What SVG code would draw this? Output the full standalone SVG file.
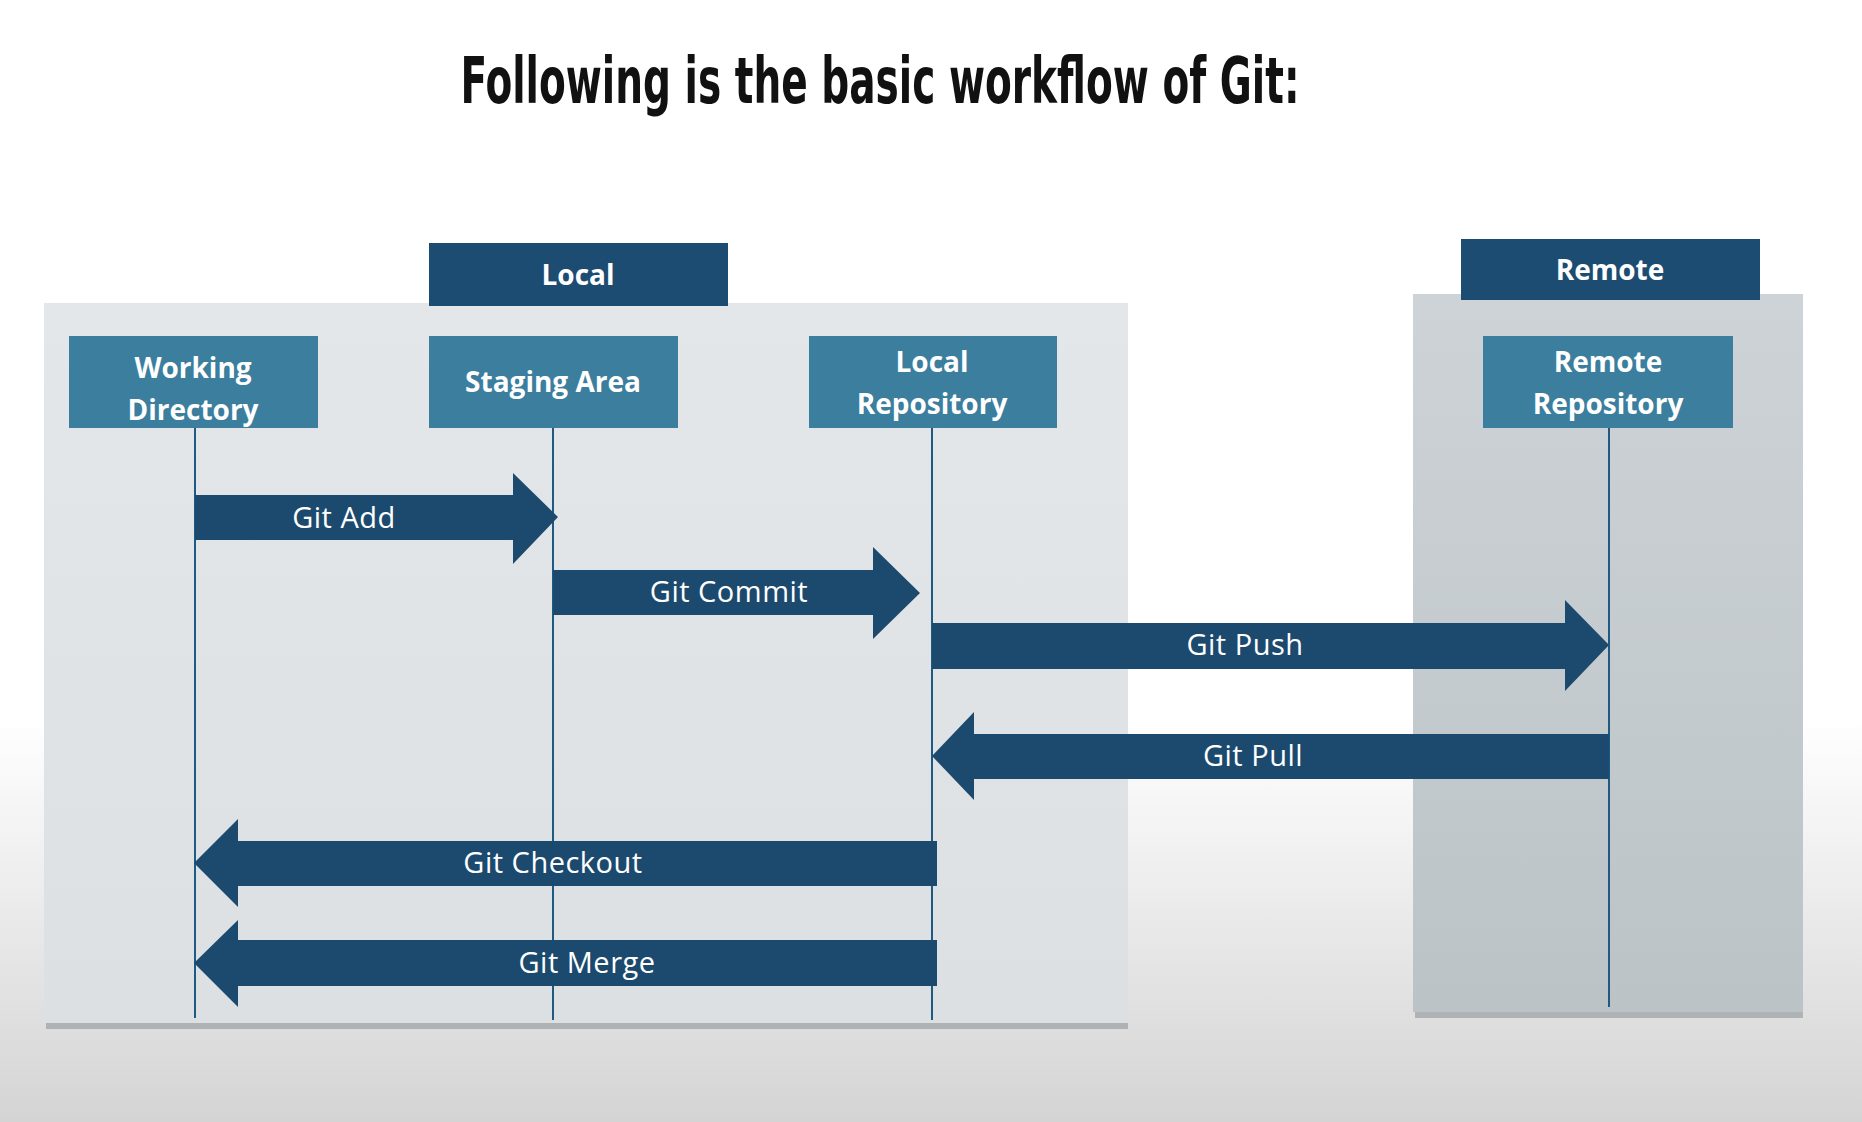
<svg xmlns="http://www.w3.org/2000/svg" width="1862" height="1122" viewBox="0 0 1862 1122">
<defs>
<linearGradient id="bg" x1="0" y1="0" x2="0" y2="1">
<stop offset="0" stop-color="#ffffff"/>
<stop offset="0.64" stop-color="#ffffff"/>
<stop offset="1" stop-color="#d4d4d4"/>
</linearGradient>
<linearGradient id="localP" x1="0" y1="0" x2="0" y2="1">
<stop offset="0" stop-color="#e4e7e9"/>
<stop offset="1" stop-color="#dde0e2"/>
</linearGradient>
<linearGradient id="remoteP" x1="0" y1="0" x2="0" y2="1">
<stop offset="0" stop-color="#cdd3d6"/>
<stop offset="1" stop-color="#bcc3c7"/>
</linearGradient>
<style>
.hdr{fill:#1d4c72}
.node{fill:#3b7e9e}
.arrow{fill:#1c4a6e}
.life{stroke:#1f5a82;stroke-width:2;fill:none}
.ntxt{font-family:"Open Sans","Noto Sans",sans-serif;font-weight:bold;font-size:28px;fill:#ffffff;text-anchor:middle}
.atxt{font-family:"Open Sans","Noto Sans",sans-serif;font-size:29px;letter-spacing:0.5px;fill:#ffffff;text-anchor:middle}
.shadow{fill:#9a9fa3}
</style>
</defs>
<rect x="0" y="0" width="1862" height="1122" fill="url(#bg)"/>
<text x="880" y="103" font-family="DejaVu Sans Condensed, DejaVu Sans, sans-serif" font-weight="bold" font-size="64" textLength="839" lengthAdjust="spacingAndGlyphs" text-anchor="middle" fill="#111111">Following is the basic workflow of Git:</text>

<g id="local-panel">
<rect x="46" y="1020" width="1082" height="9" class="shadow" opacity="0.7"/>
<rect x="44" y="303" width="1084" height="720" fill="url(#localP)"/>
</g>
<g id="remote-panel">
<rect x="1415" y="1009" width="388" height="9" class="shadow" opacity="0.7"/>
<rect x="1413" y="294" width="390" height="718" fill="url(#remoteP)"/>
</g>

<g id="local-header">
<rect x="429" y="243" width="299" height="63" class="hdr"/>
<text x="578" y="285" class="ntxt">Local</text>
</g>
<g id="remote-header">
<rect x="1461" y="239" width="299" height="61" class="hdr"/>
<text x="1610" y="280" class="ntxt">Remote</text>
</g>

<g id="connectors">
<line x1="195" y1="428" x2="195" y2="1018" class="life"/>
<line x1="553" y1="428" x2="553" y2="1020" class="life"/>
<line x1="932" y1="428" x2="932" y2="1020" class="life"/>
<line x1="1609" y1="428" x2="1609" y2="1007" class="life"/>
<g id="git-add">
<polygon class="arrow" points="195,495 513,495 513,473 558,517 513,564 513,540 195,540"/>
<text x="344" y="528" class="atxt">Git Add</text>
</g>
<g id="git-commit">
<polygon class="arrow" points="553,570 873,570 873,547 920,593 873,639 873,615 553,615"/>
<text x="729" y="602" class="atxt">Git Commit</text>
</g>
<g id="git-push">
<polygon class="arrow" points="932,623 1565,623 1565,600 1609,645 1565,691 1565,669 932,669"/>
<text x="1245" y="655" class="atxt">Git Push</text>
</g>
<g id="git-pull">
<polygon class="arrow" points="1609,734 974,734 974,712 932,756 974,800 974,779 1609,779"/>
<text x="1253" y="766" class="atxt">Git Pull</text>
</g>
<g id="git-checkout">
<polygon class="arrow" points="937,841 238,841 238,819 194,863 238,907 238,886 937,886"/>
<text x="553" y="873" class="atxt">Git Checkout</text>
</g>
<g id="git-merge">
<polygon class="arrow" points="937,940 238,940 238,920 194,963 238,1007 238,986 937,986"/>
<text x="587" y="973" class="atxt">Git Merge</text>
</g>
</g>

<g id="working-directory">
<rect x="69" y="336" width="249" height="92" class="node"/>
<text x="193" y="378" class="ntxt">Working</text>
<text x="193" y="420" class="ntxt">Directory</text>
</g>
<g id="staging-area">
<rect x="429" y="336" width="249" height="92" class="node"/>
<text x="553" y="392" class="ntxt">Staging Area</text>
</g>
<g id="local-repository">
<rect x="809" y="336" width="248" height="92" class="node"/>
<text x="932" y="372" class="ntxt">Local</text>
<text x="932" y="414" class="ntxt">Repository</text>
</g>
<g id="remote-repository">
<rect x="1483" y="336" width="250" height="92" class="node"/>
<text x="1608" y="372" class="ntxt">Remote</text>
<text x="1608" y="414" class="ntxt">Repository</text>
</g>
</svg>
